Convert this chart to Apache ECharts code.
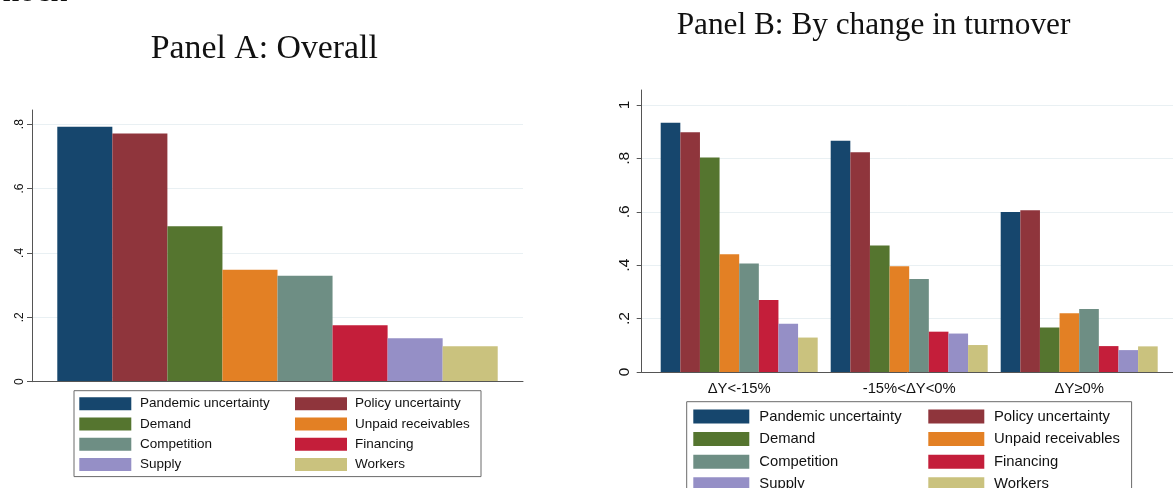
<!DOCTYPE html>
<html>
<head>
<meta charset="utf-8">
<script src="https://cdn.jsdelivr.net/npm/echarts@6/dist/echarts.min.js"></script>
<style>
  html, body { margin: 0; padding: 0; background: #fff; }
  #chart { width: 1173px; height: 488px; }
</style>
</head>
<body>
<div id="chart"></div>
<script>
// Obstacles reported by firms: overall share and by change in turnover
const factors = ['Pandemic uncertainty', 'Policy uncertainty', 'Demand', 'Unpaid receivables',
                 'Competition', 'Financing', 'Supply', 'Workers'];
const factorColors = ['#16466d', '#8f353c', '#55752f', '#e38024', '#6e8e84', '#c41e3a', '#958fc6', '#cac27e'];

// Panel A: overall share per factor (same order as factors)
const overallShares = [0.792, 0.771, 0.483, 0.348, 0.329, 0.175, 0.135, 0.110];

// Panel B: share per factor for each turnover group
const turnoverGroups = ['ΔY<-15%', '-15%<ΔY<0%', 'ΔY≥0%'];
const pandemicUncertainty = [0.933, 0.866, 0.599];
const policyUncertainty   = [0.898, 0.823, 0.606];
const demand              = [0.803, 0.474, 0.167];
const unpaidReceivables   = [0.441, 0.396, 0.220];
const competition         = [0.406, 0.348, 0.236];
const financing           = [0.270, 0.151, 0.097];
const supply              = [0.181, 0.144, 0.082];
const workers             = [0.129, 0.101, 0.096];
const turnoverShares = [pandemicUncertainty, policyUncertainty, demand, unpaidReceivables,
                        competition, financing, supply, workers];

// Axis ticks and their labels
const overallTicks = [0, 0.2, 0.4, 0.6, 0.8];
const overallTickLabels = ['0', '.2', '.4', '.6', '.8'];
const turnoverTicks = [0, 0.2, 0.4, 0.6, 0.8, 1];
const turnoverTickLabels = ['0', '.2', '.4', '.6', '.8', '1'];

// Legend reads down the first column, then the second
const legendColumns = [
  ['Pandemic uncertainty', 'Demand', 'Competition', 'Supply'],
  ['Policy uncertainty', 'Unpaid receivables', 'Financing', 'Workers']
];

const SANS = '"Liberation Sans", Arial, sans-serif';
const SERIF = '"Liberation Serif", "Times New Roman", serif';
const AXIS_COLOR = '#555';
const GRID_COLOR = '#e9f0f3';

function labelFor(ticks, labels) {
  return function (v) {
    for (let i = 0; i < ticks.length; i++) {
      if (Math.abs(ticks[i] - v) < 1e-6) return labels[i];
    }
    return '';
  };
}

function valueAxis(gridIndex, max, ticks, labels, fontSize, margin, show) {
  const n = ticks.length + 1;
  const lineColors = [];
  for (let i = 0; i < n; i++) lineColors.push(i < ticks.length ? GRID_COLOR : 'rgba(0,0,0,0)');
  return {
    type: 'value', gridIndex: gridIndex, min: 0, max: max, interval: 0.2, show: show,
    axisLine: { show: true, lineStyle: { color: AXIS_COLOR, width: 1 } },
    axisTick: { show: true, length: 5, customValues: ticks, lineStyle: { color: AXIS_COLOR } },
    axisLabel: {
      show: true, rotate: 90, margin: margin, customValues: ticks,
      fontFamily: SANS, fontSize: fontSize, color: '#111',
      formatter: labelFor(ticks, labels)
    },
    splitLine: { show: true, lineStyle: { color: lineColors, width: 1 } }
  };
}

function legendFor(left, top, itemW, itemH, gap, fontSize, pad, col1, col2, height) {
  const data = [];
  legendColumns[0].forEach(name => data.push({
    name: name, textStyle: { width: col1.width, padding: [0, 0, 0, col1.pad] }
  }));
  legendColumns[1].forEach(name => data.push({
    name: name, textStyle: { width: col2.width, padding: [0, 0, 0, col2.pad] }
  }));
  return {
    orient: 'vertical', left: left, top: top, height: height,
    itemWidth: itemW, itemHeight: itemH, itemGap: gap, icon: 'rect',
    padding: pad, borderColor: '#6b6b6b', borderWidth: 1, backgroundColor: '#fff',
    selectedMode: false,
    textStyle: { fontFamily: SANS, fontSize: fontSize, color: '#111', lineHeight: itemH },
    data: data
  };
}

const series = [];
factors.forEach((name, i) => {
  series.push({
    name: name, type: 'bar', xAxisIndex: 0, yAxisIndex: 0,
    data: [overallShares[i]], barGap: '0%', barCategoryGap: '10.3%',
    itemStyle: { color: factorColors[i] }
  });
});
factors.forEach((name, i) => {
  series.push({
    name: name, type: 'bar', xAxisIndex: 2, yAxisIndex: 2,
    data: turnoverShares[i], barGap: '0%', barCategoryGap: '7.65%',
    itemStyle: { color: factorColors[i] }
  });
});

const option = {
  animation: false,
  backgroundColor: '#fff',
  color: factorColors,
  grid: [
    { left: 32, top: 110, width: 491, height: 271.7, outerBoundsMode: 'none' },
    { left: 641.7, top: 90, width: 535.5, height: 282, outerBoundsMode: 'none' },
    { left: 654.2, top: 90, width: 510, height: 282, outerBoundsMode: 'none' }
  ],
  xAxis: [
    { type: 'category', gridIndex: 0, data: ['Overall'], z: 3,
      axisLine: { show: true, lineStyle: { color: AXIS_COLOR, width: 1 } },
      axisTick: { show: false }, axisLabel: { show: false }, splitLine: { show: false } },
    { type: 'value', gridIndex: 1, min: 0, max: 1, z: 3,
      axisLine: { show: true, lineStyle: { color: AXIS_COLOR, width: 1 } },
      axisTick: { show: false }, axisLabel: { show: false }, splitLine: { show: false } },
    { type: 'category', gridIndex: 2, data: turnoverGroups,
      axisLine: { show: false }, axisTick: { show: false }, splitLine: { show: false },
      axisLabel: { show: true, margin: 9, fontFamily: SANS, fontSize: 14.8, color: '#111' } }
  ],
  yAxis: [
    valueAxis(0, 0.844, overallTicks, overallTickLabels, 12, 6, true),
    valueAxis(1, 1.056, turnoverTicks, turnoverTickLabels, 15.5, 9, true),
    { type: 'value', gridIndex: 2, min: 0, max: 1.056, show: false, splitLine: { show: false } }
  ],
  legend: [
    legendFor(74, 390.7, 52, 13, 6.3, 13.5, [6, 5.3, 5, 5.3],
      { width: 148.7, pad: 3.7 }, { width: 120.7, pad: 3 }, 75),
    legendFor(686.7, 401.7, 56, 14, 7.6, 14.8, [7.3, 6.6, 7, 6.6],
      { width: 161.4, pad: 5 }, { width: 131, pad: 4.7 }, 85)
  ],
  graphic: [
    { type: 'text', x: 67, y: -7.5,
      style: { text: 'shock', font: '33px ' + SERIF, fill: '#111', textAlign: 'right', textVerticalAlign: 'middle' } },
    { type: 'text', x: 264.3, y: 48.8,
      style: { text: 'Panel A: Overall', font: '33.8px ' + SERIF, fill: '#111', textAlign: 'center', textVerticalAlign: 'middle' } },
    { type: 'text', x: 873.5, y: 26.2,
      style: { text: 'Panel B: By change in turnover', font: '31.3px ' + SERIF, fill: '#111', textAlign: 'center', textVerticalAlign: 'middle' } }
  ],
  series: series
};

const chart = echarts.init(document.getElementById('chart'), null, { renderer: 'canvas' });
chart.setOption(option);
</script>
</body>
</html>
